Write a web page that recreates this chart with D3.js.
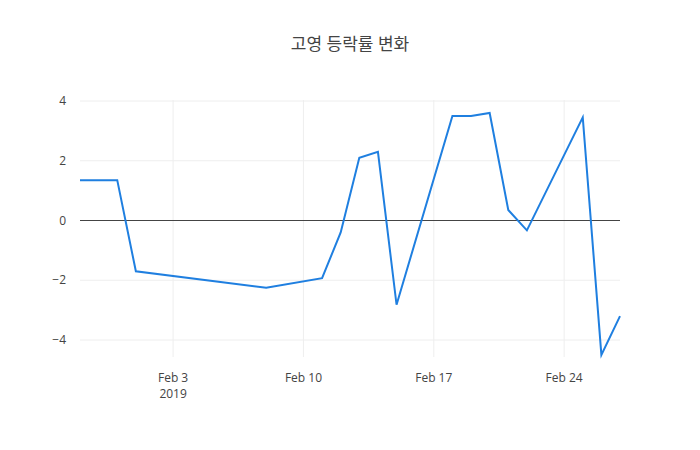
<!DOCTYPE html>
<html>
<head>
<meta charset="utf-8">
<script src="https://cdn.jsdelivr.net/npm/d3@7"></script>
<style>
body { margin: 0; background: #fff; }
text { font-family: "Open Sans", "Noto Sans CJK KR", sans-serif; }
</style>
</head>
<body>
<svg width="700" height="450"></svg>
<script>
const dates = ['2019-01-29', '2019-01-31', '2019-02-01', '2019-02-08', '2019-02-11', '2019-02-12',
    '2019-02-13', '2019-02-14', '2019-02-15', '2019-02-18', '2019-02-19', '2019-02-20',
    '2019-02-21', '2019-02-22', '2019-02-25', '2019-02-26', '2019-02-27'];
const values = [1.35, 1.35, -1.7, -2.25, -1.93, -0.4, 2.1, 2.3, -2.82, 3.5, 3.5, 3.6,
    0.35, -0.33, 3.45, -4.5, -3.2];
const xTicks = ['2019-02-03', '2019-02-10', '2019-02-17', '2019-02-24'];
const yTicks = [-4, -2, 0, 2, 4];
const title = '고영 등락률 변화';

const parse = d3.timeParse('%Y-%m-%d');
const data = dates.map((d, i) => ({ date: parse(d), value: values[i] }));

const margin = { left: 80, right: 80, top: 100, bottom: 93 };
const svg = d3.select('svg');
const width = +svg.attr('width');
const height = +svg.attr('height');
const innerWidth = width - margin.left - margin.right;
const plotH = height - margin.top - margin.bottom;

const xScale = d3.scaleTime()
    .domain(d3.extent(data, d => d.date))
    .range([0, innerWidth]);
const yScale = d3.scaleLinear()
    .domain([-4, 4])
    .range([240, 1]);

const g = svg.append('g')
    .attr('transform', `translate(${margin.left},${margin.top})`);

g.selectAll('.vgrid').data(xTicks.map(parse)).enter().append('line')
    .attr('x1', d => xScale(d)).attr('x2', d => xScale(d))
    .attr('y1', 0).attr('y2', plotH)
    .attr('stroke', '#eee');

g.selectAll('.hgrid').data(yTicks.filter(v => v !== 0)).enter().append('line')
    .attr('x1', 0).attr('x2', innerWidth)
    .attr('y1', d => yScale(d)).attr('y2', d => yScale(d))
    .attr('stroke', '#eee');

g.append('line')
    .attr('x1', 0).attr('x2', innerWidth)
    .attr('y1', yScale(0)).attr('y2', yScale(0))
    .attr('stroke', '#444');

g.selectAll('.ylab').data(yTicks).enter().append('text')
    .attr('x', -14).attr('y', d => yScale(d)).attr('dy', '0.35em')
    .attr('text-anchor', 'end').attr('font-size', 12).attr('fill', '#444')
    .text(d => d < 0 ? '\u2212' + Math.abs(d) : d);

g.selectAll('.xlab').data(xTicks.map(parse)).enter().append('text')
    .attr('x', d => xScale(d)).attr('y', plotH + 25)
    .attr('text-anchor', 'middle').attr('font-size', 12).attr('fill', '#444')
    .text(d => d3.timeFormat('%b %-d')(d));
g.append('text')
    .attr('x', xScale(parse(xTicks[0]))).attr('y', plotH + 41)
    .attr('text-anchor', 'middle').attr('font-size', 12).attr('fill', '#444')
    .text('2019');

const line = d3.line()
    .x(d => xScale(d.date))
    .y(d => yScale(d.value));

g.append('path')
    .attr('fill', 'none')
    .attr('stroke', '#1f7fe0')
    .attr('stroke-width', 2)
    .attr('d', line(data));

svg.append('text')
    .attr('x', width / 2).attr('y', 50)
    .attr('text-anchor', 'middle').attr('font-size', 17).attr('fill', '#444')
    .text(title);
</script>
</body>
</html>
